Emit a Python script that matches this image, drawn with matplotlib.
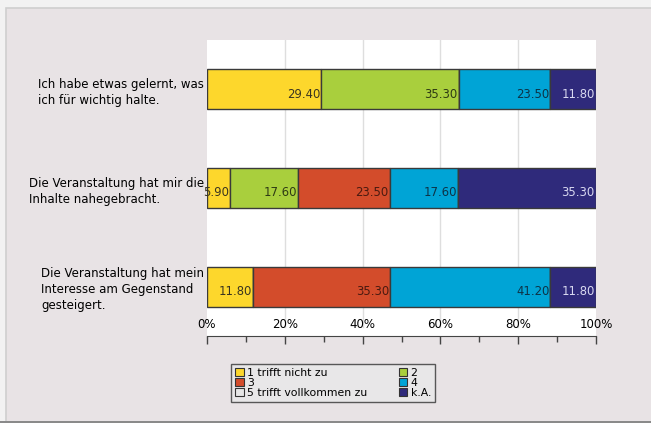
import matplotlib.pyplot as plt
from matplotlib.patches import Rectangle, Patch
import numpy as np

# survey items (top to bottom)
questions = [
    "Ich habe etwas gelernt, was\nich für wichtig halte.",
    "Die Veranstaltung hat mir die\nInhalte nahegebracht.",
    "Die Veranstaltung hat mein\nInteresse am Gegenstand\ngesteigert.",
]
answers = ["1 trifft nicht zu", "2", "3", "4", "5 trifft vollkommen zu", "k.A."]

# percentage per answer, one list per answer, in question order
v1 = [29.4, 5.9, 11.8]
v2 = [35.3, 17.6, 0.0]
v3 = [0.0, 23.5, 35.3]
v4 = [23.5, 17.6, 41.2]
v5 = [0.0, 0.0, 0.0]
vka = [11.8, 35.3, 11.8]
values = [v1, v2, v3, v4, v5, vka]

colors = ["#fdd72c", "#a9cf3d", "#d34c2b", "#00a4d6", "#e6e6e6", "#2f2a7b"]
text_colors = ["#3a3520", "#2e3a14", "#4a1a10", "#0d3347", "#333333", "#d8d8f0"]

ticks = [0, 20, 40, 60, 80, 100]
tick_labels = ["0%", "20%", "40%", "60%", "80%", "100%"]

W, H = 651, 423
fig = plt.figure(figsize=(W / 100, H / 100), dpi=100)
fig.patch.set_facecolor("#f2f2f2")
# panel background with a soft frame
fig.patches.append(Rectangle((6 / W, 0 / H), 1, 1 - 8 / H, transform=fig.transFigure,
                             facecolor="#e8e3e5", edgecolor="#cfcfcf", lw=1.2, zorder=-2))
fig.patches.append(Rectangle((0, 0), 1, 2 / H, transform=fig.transFigure,
                             facecolor="#8a8a8a", edgecolor="none", zorder=-1))

ax = fig.add_axes([207 / W, 1 - 336 / H, 389 / W, 296 / H])
ax.set_zorder(2)
ax.set_facecolor("white")
ax.set_xlim(0, 100)
ax.set_ylim(2.5, -0.5)

y = np.arange(len(questions))
h = 0.405
left = np.zeros(len(questions))
for vals, c, tc in zip(values, colors, text_colors):
    vals = np.array(vals)
    ax.barh(y, vals, left=left, height=h, color=c, edgecolor="#3a3a3a", linewidth=1, zorder=3)
    for yi, l, v in zip(y, left, vals):
        if v > 0:
            ax.text(l + v - 0.3, yi + 0.05, f"{v:.2f}", ha="right", va="center",
                    fontsize=8.4, color=tc, zorder=4, clip_on=False)
    left += vals

for t in ticks[1:-1]:
    ax.axvline(t, color="#dedede", lw=1, zorder=1, ymin=0.03)

ax.set_yticks(y)
ax.set_yticklabels(questions, fontsize=8.5, ha="right", multialignment="left", linespacing=1.3)
ax.tick_params(axis="y", length=0, pad=2)

ax.set_xticks(ticks)
ax.set_xticklabels(tick_labels, fontsize=8.5)
ax.set_xticks(np.arange(10, 100, 20), minor=True)
ax.tick_params(axis="x", which="major", direction="out", length=6, width=1, pad=-19, color="#444444")
ax.tick_params(axis="x", which="minor", direction="out", length=4, width=1, color="#444444")

for s in ["top", "left", "right"]:
    ax.spines[s].set_visible(False)
ax.spines["bottom"].set_color("#444444")

order = [0, 2, 4, 1, 3, 5]
handles = [Patch(facecolor=colors[i], edgecolor="#333333", linewidth=0.8, label=answers[i]) for i in order]
leg = fig.legend(handles=handles, ncol=2, loc="upper left",
                 bbox_to_anchor=(231 / W, 1 - 364 / H), fontsize=7.8,
                 frameon=True, fancybox=False, handlelength=0.8, handleheight=0.75,
                 handletextpad=0.3, columnspacing=2.9, labelspacing=0.0,
                 borderpad=0.38, borderaxespad=0)
leg.get_frame().set_facecolor("#e9e9e9")
leg.get_frame().set_edgecolor("#333333")
leg.get_frame().set_linewidth(1)

fig.savefig("out.png", dpi=100, facecolor=fig.get_facecolor())
